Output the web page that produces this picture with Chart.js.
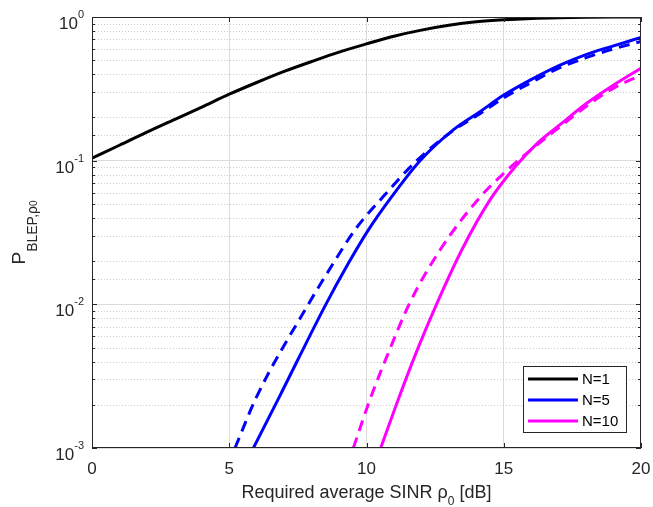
<!DOCTYPE html>
<html lang="en">
<head>
  <meta charset="UTF-8">
  <title>BLEP vs required SINR</title>
  <script src="https://cdn.jsdelivr.net/npm/chart.js"></script>
  <style>
    html, body { margin: 0; padding: 0; background: #fff; }
  </style>
</head>
<body>
  <canvas id="blepChart" width="653" height="507"></canvas>

  <script>
    // values (x = required SINR in dB, y = P_BLEP)
    const sinrN1 = [0, 1, 2, 3, 4, 5, 6, 7, 8, 9, 10, 11, 12, 13, 14, 15, 16, 17, 18, 19, 20];
    const pN1 = [0.104, 0.128, 0.158, 0.193, 0.236, 0.29, 0.35, 0.418, 0.49, 0.57, 0.65, 0.735, 0.81, 0.875, 0.925, 0.957, 0.978, 0.99, 0.996, 0.999, 1.0];

    const sinrN5 = [5.88, 6.83, 8.52, 9.34, 10.07, 10.92, 11.95, 13.16, 14.13, 15, 15.96, 17.05, 18.02, 19, 20];
    const pN5 = [0.001, 0.00228, 0.01, 0.0193, 0.033, 0.0562, 0.1, 0.164, 0.219, 0.286, 0.364, 0.463, 0.55, 0.63, 0.72];

    const sinrN5Approx = [5.21, 6.0, 7.88, 8.79, 9.58, 10.61, 11.83, 13.16, 14.13, 15, 16, 17, 18, 19, 20];
    const pN5Approx = [0.001, 0.00228, 0.01, 0.0193, 0.033, 0.0562, 0.1, 0.162, 0.212, 0.274, 0.35, 0.44, 0.521, 0.6, 0.675];

    const sinrN10 = [10.52, 11.15, 11.85, 12.55, 13.47, 14.5, 15.4, 16.2, 17.05, 18.02, 19, 20];
    const pN10 = [0.001, 0.00216, 0.00482, 0.01, 0.0239, 0.0533, 0.09, 0.131, 0.178, 0.251, 0.336, 0.44];

    const sinrN10Approx = [9.52, 10.12, 10.84, 11.55, 12.68, 14.05, 15.1, 16.2, 17.05, 18.02, 19, 20];
    const pN10Approx = [0.001, 0.00216, 0.00482, 0.01, 0.0239, 0.0533, 0.085, 0.128, 0.172, 0.24, 0.32, 0.395];

    const xTicks = [0, 5, 10, 15, 20];
    const legendLabels = ['N=1', 'N=5', 'N=10'];

    const FONT = '"Liberation Sans", Arial, sans-serif';
    const TEXT = '#262626';

    function pts(xs, ys) {
      return xs.map((x, i) => ({ x: x, y: ys[i] }));
    }

    function isDecade(v) {
      const l = Math.log10(v);
      return Math.abs(l - Math.round(l)) < 1e-6;
    }

    function curve(label, xs, ys, color, dashed) {
      return {
        label: label,
        data: pts(xs, ys),
        borderColor: color,
        backgroundColor: color,
        borderWidth: 3,
        borderDash: dashed ? [11, 7] : [],
        pointRadius: 0,
        cubicInterpolationMode: 'monotone',
        inLegend: !dashed
      };
    }

    // minor grid, box, inward ticks, tick labels with exponents, titles, legend
    const matlabLook = {
      id: 'matlabLook',
      beforeDatasetsDraw(chart) {
        const { ctx, chartArea: a, scales: { y } } = chart;
        ctx.save();
        ctx.strokeStyle = '#cccccc';
        ctx.lineWidth = 1;
        ctx.setLineDash([1, 2]);
        y.ticks.forEach(t => {
          if (isDecade(t.value)) return;
          const py = Math.round(y.getPixelForValue(t.value)) + 0.5;
          ctx.beginPath();
          ctx.moveTo(a.left, py);
          ctx.lineTo(a.right, py);
          ctx.stroke();
        });
        ctx.restore();
      },
      afterDatasetsDraw(chart) {
        const { ctx, chartArea: a, scales: { x, y } } = chart;
        ctx.save();
        ctx.strokeStyle = TEXT;
        ctx.lineWidth = 1;
        ctx.strokeRect(Math.round(a.left) + 0.5, Math.round(a.top) + 0.5,
          Math.round(a.right - a.left) - 1, Math.round(a.bottom - a.top) - 1);
        ctx.beginPath();
        x.ticks.forEach(t => {
          const px = Math.round(x.getPixelForValue(t.value)) + 0.5;
          ctx.moveTo(px, a.bottom); ctx.lineTo(px, a.bottom - 5);
          ctx.moveTo(px, a.top); ctx.lineTo(px, a.top + 5);
        });
        y.ticks.forEach(t => {
          const len = isDecade(t.value) ? 5 : 3;
          const py = Math.round(y.getPixelForValue(t.value)) + 0.5;
          ctx.moveTo(a.left, py); ctx.lineTo(a.left + len, py);
          ctx.moveTo(a.right, py); ctx.lineTo(a.right - len, py);
        });
        ctx.stroke();
        ctx.restore();
      },
      afterDraw(chart) {
        const { ctx, chartArea: a, scales: { y } } = chart;
        ctx.save();
        ctx.fillStyle = TEXT;
        ctx.textBaseline = 'alphabetic';

        // y tick labels 10^n
        y.ticks.forEach(t => {
          if (!isDecade(t.value)) return;
          const py = y.getPixelForValue(t.value);
          const ex = String(Math.round(Math.log10(t.value)));
          ctx.font = '11px ' + FONT;
          const ew = ctx.measureText(ex).width;
          ctx.textAlign = 'right';
          ctx.fillText(ex, 84, py + 1);
          ctx.font = '17px ' + FONT;
          ctx.fillText('10', 84 - ew, py + 12);
        });

        // x title with subscript
        ctx.textAlign = 'left';
        const parts = [
          { s: 'Required average SINR ', f: 18, dy: 0 },
          { s: 'ρ', f: 18, dy: 0 },
          { s: '0', f: 12, dy: 7 },
          { s: ' [dB]', f: 18, dy: 0 }
        ];
        let total = 0;
        parts.forEach(p => { ctx.font = p.f + 'px ' + FONT; p.w = ctx.measureText(p.s).width; total += p.w; });
        let cx = (a.left + a.right) / 2 - total / 2;
        parts.forEach(p => {
          ctx.font = p.f + 'px ' + FONT;
          ctx.fillText(p.s, cx, 498 + p.dy);
          cx += p.w;
        });

        // y title P_{BLEP,rho_0}, rotated
        const yParts = [
          { s: 'P', f: 19, dy: 0 },
          { s: 'BLEP,ρ', f: 14, dy: 12 },
          { s: '0', f: 10, dy: 12 }
        ];
        total = 0;
        yParts.forEach(p => { ctx.font = p.f + 'px ' + FONT; p.w = ctx.measureText(p.s).width; total += p.w; });
        ctx.translate(25, (a.top + a.bottom) / 2);
        ctx.rotate(-Math.PI / 2);
        cx = -total / 2;
        yParts.forEach(p => {
          ctx.font = p.f + 'px ' + FONT;
          ctx.fillText(p.s, cx, p.dy);
          cx += p.w;
        });
        ctx.setTransform(1, 0, 0, 1, 0, 0);

        // legend box
        const lx = 523, ly = 366, lw = 103, lh = 66;
        ctx.fillStyle = '#ffffff';
        ctx.fillRect(lx, ly, lw, lh);
        ctx.strokeStyle = TEXT;
        ctx.lineWidth = 1;
        ctx.strokeRect(lx + 0.5, ly + 0.5, lw, lh);
        const items = chart.data.datasets.filter(d => d.inLegend);
        ctx.font = '15px ' + FONT;
        ctx.textBaseline = 'middle';
        ctx.textAlign = 'left';
        items.forEach((d, i) => {
          const rowY = 379 + i * 21;
          ctx.strokeStyle = d.borderColor;
          ctx.lineWidth = 3;
          ctx.beginPath();
          ctx.moveTo(528, rowY);
          ctx.lineTo(578, rowY);
          ctx.stroke();
          ctx.fillStyle = '#000000';
          ctx.fillText(d.label, 582, rowY + 1);
        });
        ctx.restore();
      }
    };

    const ctx = document.getElementById('blepChart').getContext('2d');

    new Chart(ctx, {
      type: 'line',
      data: {
        datasets: [
          curve(legendLabels[0], sinrN1, pN1, '#000000', false),
          curve(legendLabels[1], sinrN5, pN5, '#0000ff', false),
          curve(legendLabels[2], sinrN10, pN10, '#ff00ff', false),
          curve(legendLabels[1] + ' approx', sinrN5Approx, pN5Approx, '#0000ff', true),
          curve(legendLabels[2] + ' approx', sinrN10Approx, pN10Approx, '#ff00ff', true)
        ]
      },
      options: {
        responsive: false,
        animation: false,
        layout: { padding: { top: 17, right: 12, left: 0, bottom: 0 } },
        plugins: {
          legend: { display: false },
          tooltip: { enabled: false }
        },
        scales: {
          x: {
            type: 'linear',
            min: 0,
            max: 20,
            afterBuildTicks: scale => { scale.ticks = xTicks.map(v => ({ value: v })); },
            afterFit: scale => {
              scale.height = 59;
              scale.paddingLeft = 0;
              scale.paddingRight = 0;
            },
            border: { display: false },
            grid: {
              drawTicks: false,
              color: c => (c.tick && (c.tick.value === 0 || c.tick.value === 20)) ? 'rgba(0,0,0,0)' : '#dcdcdc'
            },
            ticks: {
              padding: 11,
              color: TEXT,
              font: { family: FONT, size: 17 },
              maxRotation: 0
            }
          },
          y: {
            type: 'logarithmic',
            min: 0.001,
            max: 1,
            afterFit: scale => {
              scale.width = 92;
              scale.paddingTop = 0;
              scale.paddingBottom = 0;
            },
            border: { display: false },
            grid: {
              drawTicks: false,
              color: c => (c.tick && isDecade(c.tick.value)) ? '#dcdcdc' : 'rgba(0,0,0,0)'
            },
            ticks: { display: false }
          }
        }
      },
      plugins: [matlabLook]
    });
  </script>
</body>
</html>
